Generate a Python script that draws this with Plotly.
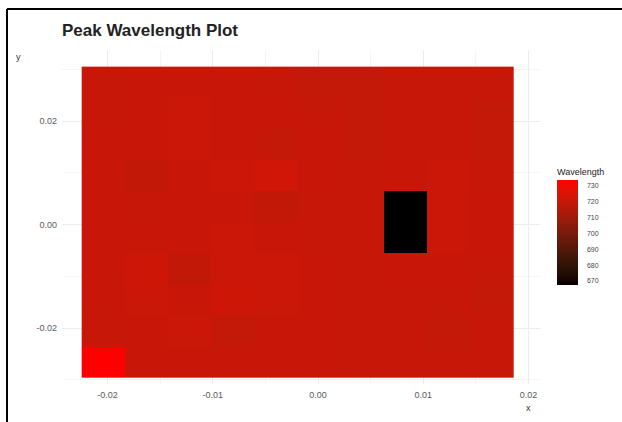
import plotly.graph_objects as go
import numpy as np

title_text = "Peak Wavelength Plot"
x_centers = [-0.0204, -0.0163, -0.0122, -0.0081, -0.0040, 0.0001, 0.0042, 0.0083, 0.0124, 0.0165]
y_centers = [0.0275, 0.0215, 0.0155, 0.0095, 0.0035, -0.0025, -0.0085, -0.0145, -0.0205, -0.0265]
# rows listed from top to bottom
wavelength = [
    [720.0, 720.5, 720.5, 720.5, 720.0, 719.5, 719.5, 720.0, 720.0, 720.0],
    [720.0, 720.5, 721.0, 720.5, 720.5, 720.0, 719.5, 720.0, 720.0, 719.5],
    [720.5, 720.5, 721.0, 720.5, 719.5, 720.5, 719.5, 720.0, 720.0, 719.5],
    [720.5, 719.0, 720.5, 721.0, 722.5, 720.5, 720.0, 720.5, 721.0, 720.0],
    [720.5, 720.0, 720.5, 720.5, 719.0, 720.0, 720.0, 667.5, 721.0, 720.5],
    [720.5, 720.5, 720.5, 721.0, 720.5, 720.0, 720.0, 667.6, 721.0, 720.5],
    [720.5, 722.0, 719.0, 721.0, 721.0, 720.5, 720.0, 720.5, 720.5, 720.0],
    [720.5, 721.0, 720.5, 722.0, 721.0, 720.5, 720.0, 720.0, 720.0, 719.5],
    [720.0, 720.5, 721.0, 719.5, 720.5, 720.5, 720.0, 720.0, 719.5, 720.0],
    [733.8, 720.5, 720.5, 720.5, 720.5, 720.5, 720.0, 720.0, 720.0, 720.0],
]
x_ticks = [-0.02, -0.01, 0.00, 0.01, 0.02]
y_ticks = [-0.02, 0.00, 0.02]
cbar_ticks = [670, 680, 690, 700, 710, 720, 730]


def lab_to_rgb(L, a, b):
    fy = (L + 16) / 116
    fx = fy + a / 500
    fz = fy - b / 200
    def finv(t):
        return t ** 3 if t > 6 / 29 else 3 * (6 / 29) ** 2 * (t - 4 / 29)
    X, Y, Z = 0.95047 * finv(fx), 1.0 * finv(fy), 1.08883 * finv(fz)
    r = 3.2406 * X - 1.5372 * Y - 0.4986 * Z
    g = -0.9689 * X + 1.8758 * Y + 0.0415 * Z
    bb = 0.0557 * X - 0.2040 * Y + 1.0570 * Z
    def gam(c):
        c = max(0.0, min(1.0, c))
        return 12.92 * c if c <= 0.0031308 else 1.055 * c ** (1 / 2.4) - 0.055
    return tuple(int(round(255 * gam(c))) for c in (r, g, bb))


red_lab = (53.24, 80.09, 67.20)
scale = []
for t in np.linspace(0, 1, 41):
    rgb = lab_to_rgb(red_lab[0] * t, red_lab[1] * t, red_lab[2] * t)
    scale.append([float(t), "rgb(%d,%d,%d)" % rgb])

W, H = 622, 422
L, R, T, B = 62, 540, 50, 384
pw, ph = R - L, B - T
def px(xp):
    return (xp - L) / pw
def py(yp):
    return (B - yp) / ph

fig = go.Figure()
fig.add_trace(go.Heatmap(
    x=x_centers, y=y_centers, z=wavelength,
    colorscale=scale,
    xgap=0, ygap=0,
    colorbar=dict(
        title=dict(text="Wavelength", side="top", font=dict(size=9, color="#222", family="Liberation Sans")),
        tickvals=cbar_ticks,
        ticks="outside", tickcolor="rgba(255,255,255,0)", ticklen=8,
        tickfont=dict(size=7, color="#444", family="Liberation Sans"),
        thickness=21, thicknessmode="pixels",
        len=120, lenmode="pixels",
        x=px(557), xanchor="left", y=py(285), yanchor="bottom",
        outlinewidth=0, xpad=0, ypad=0,
    ),
))

axis_common = dict(
    showgrid=True, gridcolor="#ececec", gridwidth=1,
    zeroline=False, showline=False, ticks="",
    tickfont=dict(size=9, color="#5a5a5a", family="Liberation Sans"),
    minor=dict(showgrid=True, gridcolor="#f5f5f5", gridwidth=1),
)
fig.update_xaxes(range=[-0.02432, 0.02109], tickvals=x_ticks,
                 ticktext=["-0.02", "-0.01", "0.00", "0.01", "0.02"],
                 minor_dtick=0.005, **axis_common)
fig.update_yaxes(range=[-0.03082, 0.03372], tickvals=y_ticks,
                 ticktext=["-0.02", "0.00", "0.02"],
                 minor_dtick=0.01, **axis_common)

fig.update_layout(
    width=W, height=H,
    margin=dict(l=L, r=W - R, t=T, b=H - B, pad=4),
    paper_bgcolor="white", plot_bgcolor="white",
    title=dict(text="<b>" + title_text + "</b>", x=62 / W, xanchor="left",
               y=1 - 30 / H, yanchor="middle",
               font=dict(size=17, color="#222", family="Liberation Sans")),
    showlegend=False,
    annotations=[
        dict(text="y", xref="paper", yref="paper", x=px(14), y=py(50),
             showarrow=False, font=dict(size=9, color="#333", family="Liberation Sans")),
        dict(text="x", xref="paper", yref="paper", x=px(533), y=py(415),
             showarrow=False, font=dict(size=9, color="#333", family="Liberation Sans")),
    ],
    shapes=[
        dict(type="line", xref="paper", yref="paper", x0=px(7), x1=px(7), y0=py(9), y1=py(430),
             line=dict(color="black", width=2)),
        dict(type="line", xref="paper", yref="paper", x0=px(7), x1=px(630), y0=py(9), y1=py(9),
             line=dict(color="black", width=2)),
    ],
)

fig.write_html("out.html")
